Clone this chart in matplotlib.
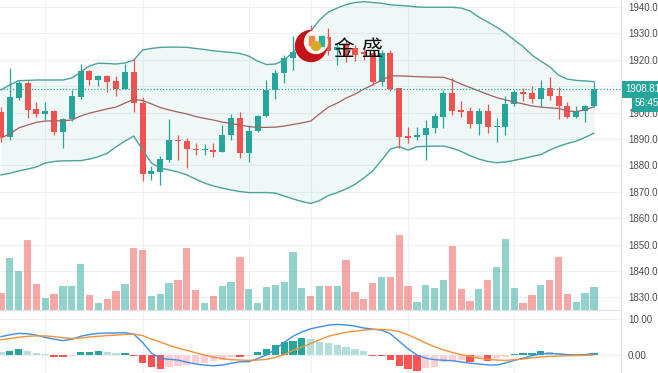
import numpy as np
import matplotlib.pyplot as plt
import matplotlib.transforms as mtransforms
from matplotlib.patches import Circle, Rectangle

plt.rcParams['font.family'] = ['Liberation Sans', 'Noto Sans CJK SC']

# ---- K线数据 ----
opens = [1900.2, 1890.9, 1905.4, 1911.1, 1901.2, 1899.6, 1900.6, 1892.8, 1897.5, 1906.0,
         1915.9, 1912.3, 1913.9, 1912.0, 1909.0, 1915.5, 1903.5, 1876.7, 1877.6, 1882.0,
         1889.6, 1889.4, 1886.2, 1885.7, 1885.8, 1885.2, 1891.5, 1897.8, 1884.6, 1893.0,
         1898.8, 1908.6, 1914.9, 1920.6, 1923.1, 1929.0, 1925.5, 1928.5, 1923.6, 1926.0,
         1924.4, 1923.0, 1922.5, 1911.7, 1922.5, 1909.2, 1891.1, 1890.6, 1891.5, 1894.1,
         1898.4, 1907.3, 1901.0, 1900.6, 1895.7, 1900.6, 1894.4, 1894.7, 1903.1, 1907.8,
         1907.3, 1905.2, 1909.4, 1906.4, 1902.5, 1898.2, 1900.6, 1902.5]
highs = [1902.0, 1916.8, 1912.0, 1912.0, 1904.1, 1904.1, 1900.9, 1897.8, 1908.6, 1918.4,
         1916.3, 1914.2, 1914.1, 1913.9, 1918.4, 1920.6, 1906.0, 1879.8, 1883.6, 1897.5,
         1891.5, 1890.3, 1888.4, 1888.2, 1888.6, 1895.3, 1899.5, 1900.1, 1895.3, 1899.0,
         1912.3, 1916.1, 1921.8, 1929.0, 1929.0, 1933.3, 1929.5, 1931.9, 1926.5, 1927.5,
         1925.5, 1925.0, 1923.7, 1923.7, 1923.7, 1909.5, 1894.7, 1894.4, 1897.2, 1899.7,
         1908.6, 1913.0, 1904.4, 1902.2, 1901.9, 1903.1, 1897.8, 1906.3, 1908.6, 1909.2,
         1910.1, 1912.3, 1913.6, 1909.6, 1904.1, 1902.5, 1902.8, 1911.7]
lows = [1889.0, 1889.6, 1904.7, 1897.8, 1898.2, 1897.2, 1891.5, 1886.5, 1897.0, 1905.2,
        1910.5, 1910.1, 1907.9, 1906.3, 1908.8, 1900.3, 1874.1, 1874.5, 1872.6, 1881.4,
        1882.0, 1878.9, 1884.0, 1884.0, 1883.3, 1885.0, 1889.6, 1882.7, 1881.2, 1892.5,
        1898.5, 1905.2, 1911.3, 1916.1, 1921.0, 1924.5, 1924.0, 1921.8, 1918.0, 1919.0,
        1919.5, 1920.0, 1910.5, 1910.0, 1908.0, 1886.5, 1888.4, 1889.8, 1882.0, 1892.1,
        1894.1, 1899.1, 1898.4, 1894.0, 1891.5, 1892.4, 1889.0, 1891.5, 1902.5, 1904.4,
        1903.8, 1902.2, 1904.8, 1897.5, 1898.0, 1898.0, 1896.6, 1902.0]
closes = [1890.8, 1905.8, 1911.3, 1901.0, 1899.6, 1900.6, 1892.8, 1897.6, 1906.3, 1915.9,
          1912.3, 1913.9, 1911.7, 1909.0, 1915.5, 1903.5, 1876.7, 1877.9, 1882.3, 1889.6,
          1889.2, 1886.1, 1885.7, 1886.2, 1885.2, 1891.5, 1897.8, 1884.6, 1893.1, 1898.8,
          1908.6, 1914.9, 1920.8, 1923.1, 1926.8, 1926.5, 1928.2, 1923.4, 1925.0, 1921.5,
          1922.0, 1922.3, 1911.7, 1922.5, 1908.8, 1890.9, 1890.5, 1891.4, 1894.1, 1898.7,
          1907.3, 1900.6, 1900.3, 1895.7, 1900.6, 1894.4, 1895.0, 1903.1, 1907.8, 1907.2,
          1905.2, 1909.4, 1906.4, 1902.5, 1898.2, 1900.6, 1902.5, 1908.81]

# 布林带
bb_upper = [1908.6, 1910.5, 1912.1, 1912.2, 1912.35, 1912.35, 1912.35, 1912.35, 1913.1, 1915.4,
            1917.7, 1918.7, 1918.6, 1918.4, 1918.8, 1919.9, 1923.7, 1924.3, 1924.7, 1924.8,
            1924.8, 1924.7, 1924.3, 1923.9, 1923.4, 1923.1, 1922.8, 1922.4, 1921.4, 1919.5,
            1918.2, 1918.4, 1919.9, 1922.9, 1926.7, 1930.9, 1935.1, 1938.1, 1939.6, 1940.9,
            1941.7, 1942.0, 1941.7, 1941.4, 1940.8, 1940.6, 1940.4, 1940.0, 1939.9, 1939.9,
            1939.9, 1939.9, 1939.6, 1938.5, 1936.2, 1934.3, 1932.4, 1930.2, 1927.5, 1925.0,
            1921.8, 1919.5, 1917.4, 1914.2, 1912.7, 1912.2, 1912.0, 1911.7]
bb_mid = [1890.4, 1891.9, 1894.2, 1895.3, 1896.3, 1896.8, 1896.9, 1896.9, 1897.2, 1898.7,
          1899.8, 1900.6, 1901.4, 1902.1, 1903.6, 1905.0, 1904.6, 1903.3, 1901.9, 1901.0,
          1900.2, 1899.5, 1898.5, 1897.8, 1897.2, 1896.4, 1895.9, 1895.3, 1894.7, 1894.4,
          1894.4, 1894.5, 1894.9, 1895.5, 1896.1, 1896.8, 1899.5, 1902.1, 1903.6, 1905.5,
          1907.0, 1908.9, 1910.5, 1912.3, 1913.9, 1913.9, 1913.8, 1913.6, 1913.5, 1913.4,
          1913.4, 1912.3, 1910.8, 1909.5, 1908.2, 1906.9, 1905.7, 1904.8, 1904.0, 1903.3,
          1902.5, 1902.1, 1901.8, 1901.6, 1900.6, 1900.4, 1901.0, 1902.2]
bb_lower = [1876.4, 1877.0, 1877.9, 1878.6, 1879.4, 1880.9, 1881.5, 1881.7, 1881.8, 1881.8,
            1882.4, 1883.3, 1884.6, 1887.0, 1889.2, 1891.1, 1885.8, 1880.9, 1879.0, 1878.3,
            1877.5, 1876.4, 1874.8, 1873.3, 1872.2, 1871.4, 1870.7, 1870.1, 1869.7, 1869.7,
            1869.7, 1869.5, 1868.4, 1867.3, 1866.3, 1865.6, 1866.7, 1868.6, 1869.7, 1871.1,
            1872.8, 1875.2, 1877.9, 1881.9, 1886.2, 1887.1, 1885.8, 1887.1, 1887.2, 1887.3,
            1887.3, 1886.5, 1885.3, 1883.7, 1882.4, 1881.5, 1881.0, 1881.3, 1881.9, 1882.6,
            1883.4, 1884.1, 1885.8, 1887.2, 1888.3, 1889.2, 1890.6, 1892.2]

# 成交量 (相对值)
volume = [17, 52, 39, 70, 26, 12, 16, 24, 24, 46, 15, 7, 11, 19, 26, 62, 60, 14, 16, 27,
          30, 62, 20, 7, 14, 24, 28, 53, 21, 7, 23, 25, 28, 58, 22, 14, 24, 24, 24, 50,
          18, 11, 27, 33, 33, 75, 24, 8, 25, 22, 30, 64, 21, 9, 21, 30, 43, 71, 22, 7,
          15, 25, 30, 53, 16, 8, 17, 23]

# MACD
macd_line = [5.1, 5.6, 6.0, 5.9, 5.5, 4.9, 4.4, 4.0, 4.35, 5.2,
             5.7, 6.0, 6.1, 6.1, 6.2, 5.8, 3.5, 0.5, -0.9, -1.2,
             -1.4, -2.0, -2.5, -2.8, -3.0, -2.8, -2.3, -1.9, -1.85, -1.0,
             0.0, 1.6, 3.5, 5.2, 6.4, 7.3, 7.8, 8.3, 8.5, 8.35,
             8.0, 7.5, 7.2, 6.9, 5.9, 3.8, 1.7, 0.0, -0.9, -1.3,
             -1.45, -1.6, -1.9, -2.3, -2.5, -2.75, -2.8, -2.2, -1.5, -0.9,
             -0.2, 0.3, 0.45, 0.3, 0.1, 0.0, 0.1, 0.45]
signal_line = [4.2, 4.6, 4.9, 5.2, 5.3, 5.3, 5.1, 4.8, 4.6, 4.7,
               5.0, 5.2, 5.4, 5.5, 5.7, 5.8, 5.4, 4.4, 3.6, 2.7,
               1.9, 1.3, 0.6, 0.0, -0.6, -1.0, -1.3, -1.4, -1.5, -1.4,
               -1.2, -0.7, 0.1, 1.3, 2.2, 3.2, 4.2, 5.2, 5.8, 6.3,
               6.6, 6.9, 7.1, 7.1, 6.9, 6.5, 5.6, 4.5, 3.3, 2.3,
               1.4, 0.7, 0.1, -0.4, -0.9, -1.2, -1.4, -1.5, -1.3, -1.1,
               -0.8, -0.55, -0.4, -0.3, -0.2, -0.15, -0.1, 0.0]
macd_hist = [0.9, 1.1, 1.6, 1.1, 0.45, 0.3, -0.55, -0.65, -0.3, 0.75,
             0.9, 1.2, 0.8, 0.6, 0.65, -0.3, -2.3, -3.4, -4.0, -3.2,
             -3.05, -2.8, -2.3, -2.1, -1.7, -1.4, -0.45, -0.55, -0.2, 0.75,
             1.75, 2.8, 3.5, 3.9, 4.6, 4.45, 3.7, 3.4, 2.8, 2.1,
             1.7, 1.0, -0.35, -0.4, -1.4, -3.0, -3.9, -4.35, -3.7, -3.4,
             -2.0, -1.6, -1.4, -1.85, -1.1, -1.6, -0.8, -0.45, 0.3, 0.55,
             0.6, 1.0, 0.75, 0.45, 0.3, 0.1, 0.2, 0.45]

price_ticks = [1830, 1840, 1850, 1860, 1870, 1880, 1890, 1900, 1910, 1920, 1930, 1940]
macd_ticks = [0, 10]
time_grid = [5, 16, 28, 35, 46, 58]
last_price = 1908.81
countdown = '56:45'

up_c = '#26a69a'
dn_c = '#ef5350'
grid_c = '#eef0f4'
sep_c = '#e0e3eb'
lab_c = '#4a4a4a'

n = len(closes)
x = np.arange(n)
o = np.array(opens)
c = np.array(closes)
is_up = c >= o
cols = np.where(is_up, up_c, dn_c)

W, H = 658, 373
fig = plt.figure(figsize=(W / 100, H / 100), dpi=100)
fig.patch.set_facecolor('white')

ax = fig.add_axes([0, 63 / H, 621 / W, 310 / H])
axv = fig.add_axes([0, 63 / H, 621 / W, 310 / H], sharex=ax)
axm = fig.add_axes([0, 0, 621 / W, 62 / H], sharex=ax)

ax.set_xlim(-0.11, 70.06)
ax.set_ylim(1825.23, 1942.65)

# 布林带
ax.fill_between(x, bb_lower, bb_upper, color=up_c, alpha=0.07, lw=0)
ax.plot(x, bb_upper, color='#4aa39a', lw=1.0)
ax.plot(x, bb_lower, color='#4aa39a', lw=1.0)
ax.plot(x, bb_mid, color='#a0605f', lw=0.9)

# 蜡烛
ax.vlines(x, lows, highs, colors=cols, lw=0.9)
body_h = np.maximum(np.abs(c - o), 0.4)
ax.bar(x, body_h, bottom=np.minimum(o, c), width=0.68, color=cols, lw=0)

ax.axhline(last_price, color=up_c, lw=0.9, ls=(0, (1, 1.5)))

ax.set_yticks(price_ticks)
ax.set_yticklabels([f'{t:.2f}' for t in price_ticks])
ax.yaxis.tick_right()
ax.tick_params(axis='y', length=0, pad=5, labelsize=7, labelcolor=lab_c)
ax.set_xticks(time_grid)
ax.tick_params(axis='x', length=0, labelbottom=False)
ax.grid(True, color=grid_c, lw=0.8)
ax.set_axisbelow(True)
for s in ['top', 'left']:
    ax.spines[s].set_visible(False)
ax.spines['right'].set_color(sep_c)
ax.spines['bottom'].set_color(sep_c)

# 成交量
axv.bar(x, volume, width=0.82, color=cols, alpha=0.5, lw=0)
axv.set_ylim(0, 310)
axv.axis('off')
axv.patch.set_visible(False)

# 价格标签
trans = mtransforms.blended_transform_factory(ax.transAxes, ax.transData)
ax.annotate(f'{last_price:.2f}', xy=(1, last_price), xycoords=trans,
            xytext=(4, 0), textcoords='offset pixels', ha='left', va='center',
            color='white', fontsize=7,
            bbox=dict(boxstyle='square,pad=0.35', fc=up_c, ec='none'),
            annotation_clip=False)
ax.annotate(countdown, xy=(1, last_price), xycoords=trans,
            xytext=(14, -14), textcoords='offset pixels', ha='left', va='center',
            color='white', fontsize=7,
            bbox=dict(boxstyle='square,pad=0.35', fc=up_c, ec='none'),
            annotation_clip=False)

# MACD
h = np.array(macd_hist)
rising = np.r_[False, h[1:] > h[:-1]]
hcols = np.where(h >= 0, np.where(rising, '#26a69a', '#b2dfdb'),
                 np.where(rising, '#ffcdd2', '#ff5252'))
axm.bar(x, h, width=0.82, color=hcols, lw=0)
axm.plot(x, macd_line, color='#3d8ee6', lw=1.0)
axm.plot(x, signal_line, color='#f39237', lw=1.0)
axm.set_ylim(-5.0, 12.22)
axm.set_yticks(macd_ticks)
axm.set_yticklabels([f'{t:.2f}' for t in macd_ticks])
axm.yaxis.tick_right()
axm.tick_params(axis='y', length=0, pad=5, labelsize=7, labelcolor=lab_c)
axm.tick_params(axis='x', length=0, labelbottom=False)
axm.grid(True, color=grid_c, lw=0.8)
axm.set_axisbelow(True)
for s in ['top', 'left', 'bottom']:
    axm.spines[s].set_visible(False)
axm.spines['right'].set_color(sep_c)

# 水印 logo
axl = fig.add_axes([0, 0, 1, 1])
axl.set_xlim(0, W)
axl.set_ylim(H, 0)
axl.axis('off')
axl.patch.set_visible(False)
axl.add_patch(Circle((311, 46), 15.5, color='#c4121a'))
axl.add_patch(Circle((316, 42), 11.5, color='#fbf6ee'))
axl.add_patch(Rectangle((308.5, 36), 5, 9, color='#f08a4b'))
axl.add_patch(Rectangle((319, 36), 5, 10, color='#2bb3a0'))
axl.add_patch(Circle((316, 46), 4.5, color='#d9a928'))
axl.text(344, 49, '金', fontsize=15, ha='center', va='center', color='#111111')
axl.text(372, 49, '盛', fontsize=15, ha='center', va='center', color='#111111')

fig.savefig('out.png', dpi=100, facecolor='white')
